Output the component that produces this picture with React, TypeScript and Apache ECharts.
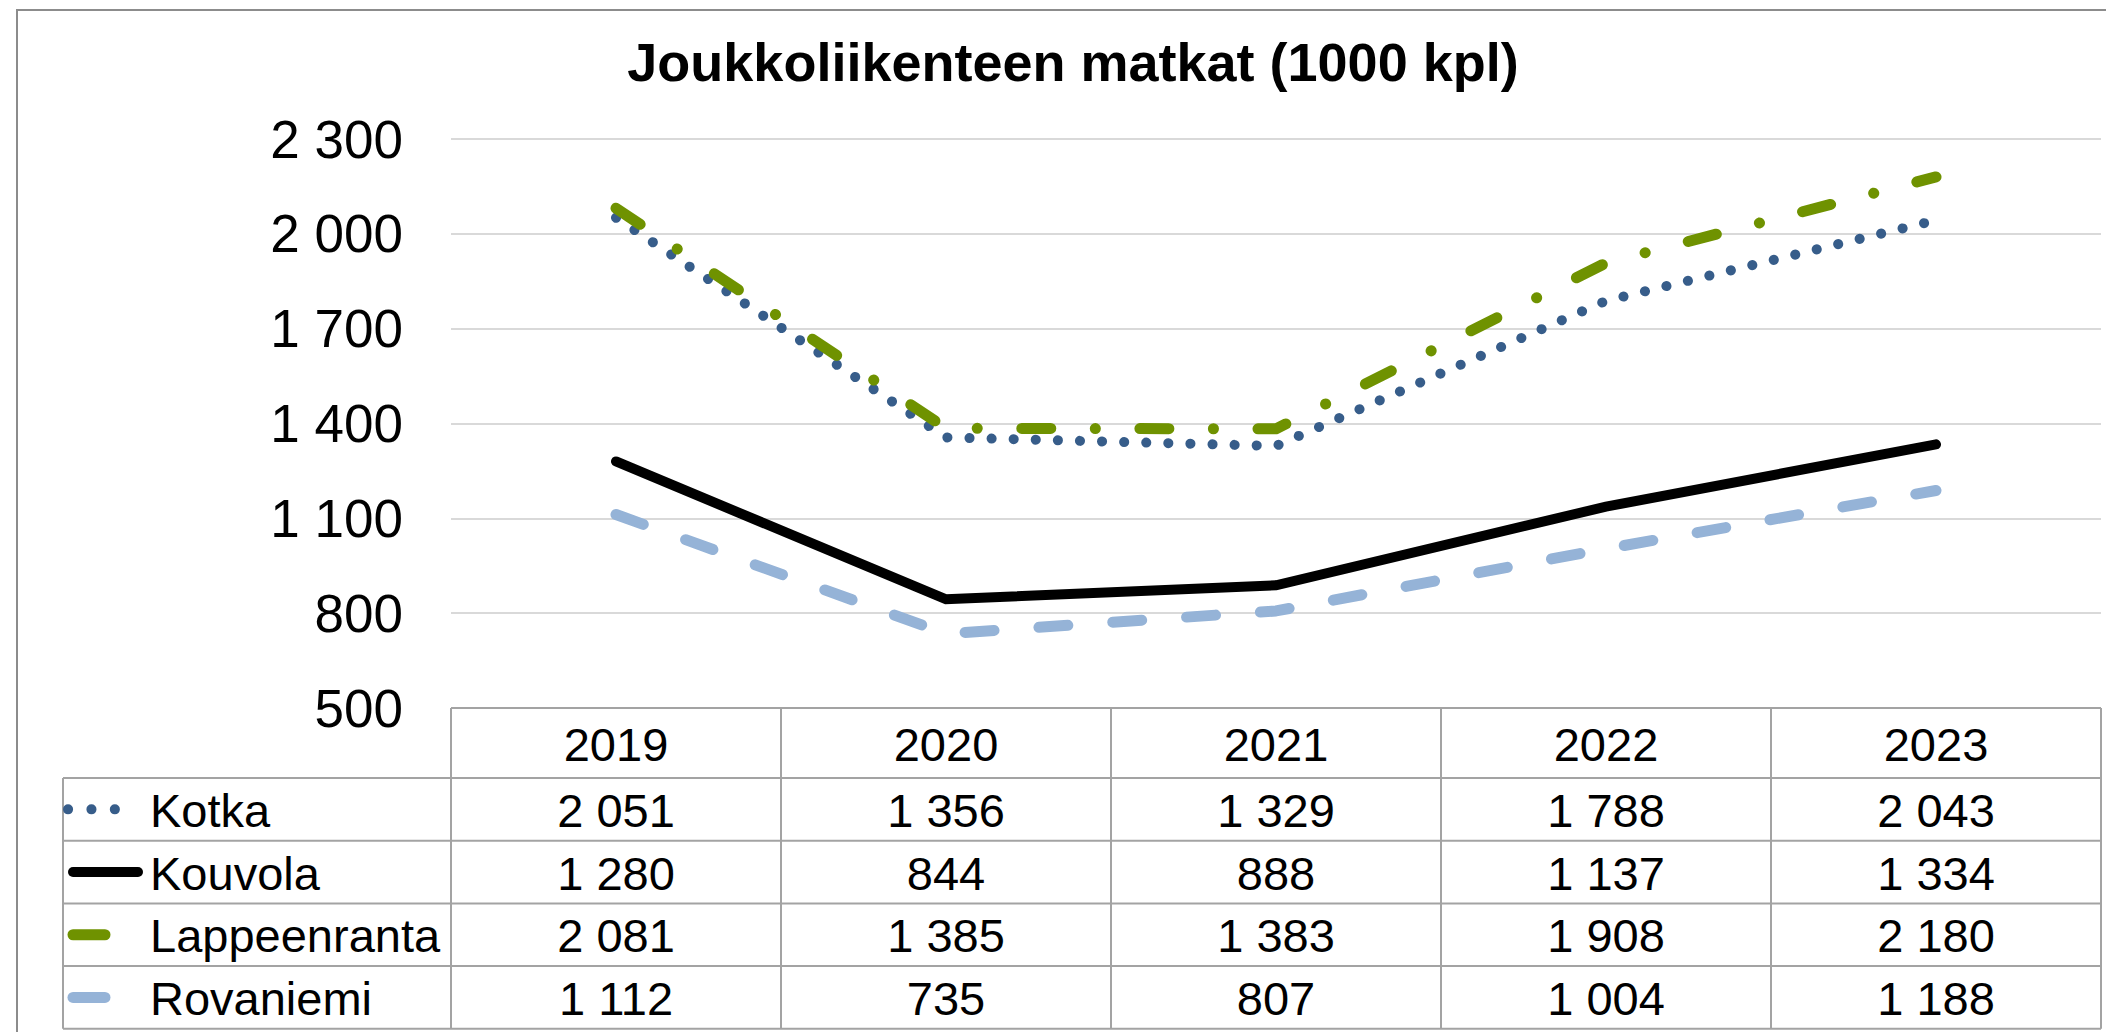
import React, { useEffect, useRef } from "react";
import * as echarts from "echarts";

const categories = ["2019", "2020", "2021", "2022", "2023"];
const kotka = [2051, 1356, 1329, 1788, 2043];
const kouvola = [1280, 844, 888, 1137, 1334];
const lappeenranta = [2081, 1385, 1383, 1908, 2180];
const rovaniemi = [1112, 735, 807, 1004, 1188];
const seriesNames = ["Kotka", "Kouvola", "Lappeenranta", "Rovaniemi"];
const yTicks = { min: 500, max: 2300, interval: 300 };
const titleText = "Joukkoliikenteen matkat (1000 kpl)";

const FONT = "'Liberation Sans', Arial, Helvetica, sans-serif";
const W = 2106;
const H = 1032;
const GRID_LEFT = 451;
const GRID_RIGHT_X = 2101;
const GRID_TOP = 139;
const GRID_BOTTOM_Y = 708;
const HEADER_BOTTOM = 778;
const ROW_H = 62.7;
const TABLE_LEFT = 63;
const BORDER = "#a3a3a3";

const fmt = (n: number) => String(n).replace(/\B(?=(\d{3})+(?!\d))/g, " ");

const colors = ["#375d8a", "#000000", "#6f9200", "#95b3d7"];
const lineStyles: any[] = [
  { color: colors[0], width: 10, type: [0.1, 22], cap: "round", join: "round" },
  { color: colors[1], width: 10, type: "solid", cap: "round", join: "miter" },
  { color: colors[2], width: 11, type: [29, 44.5, 0.1, 44.5], cap: "round", join: "round" },
  { color: colors[3], width: 11, type: [29, 45], cap: "round", join: "round" },
];

export default function App() {
  const ref = useRef<HTMLDivElement>(null);
  useEffect(() => {
    if (!ref.current) return;
    const chart = echarts.init(ref.current, null, { renderer: "svg", width: W, height: H });
    const data = [kotka, kouvola, lappeenranta, rovaniemi];
    chart.setOption({
      animation: false,
      backgroundColor: "#ffffff",
      title: {
        text: titleText,
        left: 1073,
        top: 62,
        textAlign: "center",
        textVerticalAlign: "middle",
        padding: 0,
        textStyle: { fontFamily: FONT, fontSize: 54, fontWeight: "bold", color: "#000" },
      },
      grid: {
        left: GRID_LEFT,
        top: GRID_TOP,
        width: GRID_RIGHT_X - GRID_LEFT,
        height: GRID_BOTTOM_Y - GRID_TOP,
        containLabel: false,
      },
      xAxis: {
        type: "category",
        data: categories,
        boundaryGap: true,
        axisLine: { show: false },
        axisTick: { show: false },
        axisLabel: { show: false },
        splitLine: { show: false },
      },
      yAxis: {
        type: "value",
        min: yTicks.min,
        max: yTicks.max,
        interval: yTicks.interval,
        axisLine: { show: false },
        axisTick: { show: false },
        axisLabel: {
          formatter: (v: number) => fmt(v),
          fontFamily: FONT,
          fontSize: 53,
          color: "#000",
          margin: 48,
        },
        splitLine: { show: true, lineStyle: { color: "#d9d9d9", width: 2 } },
      },
      series: seriesNames.map((name, i) => ({
        name,
        type: "line",
        data: data[i],
        showSymbol: false,
        symbol: "none",
        lineStyle: lineStyles[i],
        z: 2 + i,
      })),
    });

    const colX = categories.map((c) => chart.convertToPixel({ xAxisIndex: 0 }, c) as number);
    const colW = (GRID_RIGHT_X - GRID_LEFT) / categories.length;
    const tableBottom = HEADER_BOTTOM + ROW_H * seriesNames.length;
    const g: any[] = [];
    // outer frame
    g.push({
      type: "rect",
      silent: true,
      shape: { x: 17, y: 10, width: W + 100, height: H + 100 },
      style: { fill: "none", stroke: "#8c8c8c", lineWidth: 2 },
      z: 0,
    });
    // horizontal table lines
    g.push({ type: "line", shape: { x1: GRID_LEFT, y1: GRID_BOTTOM_Y, x2: GRID_RIGHT_X, y2: GRID_BOTTOM_Y }, style: { stroke: BORDER, lineWidth: 2 } });
    for (let r = 0; r <= seriesNames.length; r++) {
      const y = HEADER_BOTTOM + ROW_H * r;
      g.push({ type: "line", shape: { x1: TABLE_LEFT, y1: y, x2: GRID_RIGHT_X, y2: y }, style: { stroke: BORDER, lineWidth: 2 } });
    }
    // vertical lines
    g.push({ type: "line", shape: { x1: TABLE_LEFT, y1: HEADER_BOTTOM, x2: TABLE_LEFT, y2: tableBottom }, style: { stroke: BORDER, lineWidth: 2 } });
    for (let c = 0; c <= categories.length; c++) {
      const x = GRID_LEFT + colW * c;
      g.push({ type: "line", shape: { x1: x, y1: GRID_BOTTOM_Y, x2: x, y2: tableBottom }, style: { stroke: BORDER, lineWidth: 2 } });
    }
    // header
    categories.forEach((c, i) => {
      g.push({
        type: "text",
        x: colX[i],
        y: (GRID_BOTTOM_Y + HEADER_BOTTOM) / 2 + 1,
        style: { text: c, fill: "#000", fontFamily: FONT, fontSize: 47, textAlign: "center", textVerticalAlign: "middle" },
      });
    });
    // rows
    seriesNames.forEach((name, r) => {
      const cy = HEADER_BOTTOM + ROW_H * r + ROW_H / 2;
      data[r].forEach((v, i) => {
        g.push({
          type: "text",
          x: colX[i],
          y: cy + 1,
          style: { text: fmt(v), fill: "#000", fontFamily: FONT, fontSize: 47, textAlign: "center", textVerticalAlign: "middle" },
        });
      });
      g.push({
        type: "text",
        x: 150,
        y: cy + 1,
        style: { text: name, fill: "#000", fontFamily: FONT, fontSize: 47, textAlign: "left", textVerticalAlign: "middle" },
      });
      const ls = lineStyles[r];
      let x1 = 73, x2 = 138;
      let dash: any = null;
      if (r === 0) { x1 = 68; x2 = 138; dash = [0.1, 23.3]; }
      if (r === 2 || r === 3) { x1 = 73; x2 = 105; }
      g.push({
        type: "line",
        shape: { x1, y1: cy, x2, y2: cy },
        style: { stroke: ls.color, lineWidth: ls.width, lineCap: "round", lineDash: dash },
      });
    });
    chart.setOption({ graphic: { elements: g } });
    return () => chart.dispose();
  }, []);
  return (
    <div
      ref={ref}
      style={{ position: "fixed", left: 0, top: 0, width: W, height: H, background: "#fff" }}
    />
  );
}
